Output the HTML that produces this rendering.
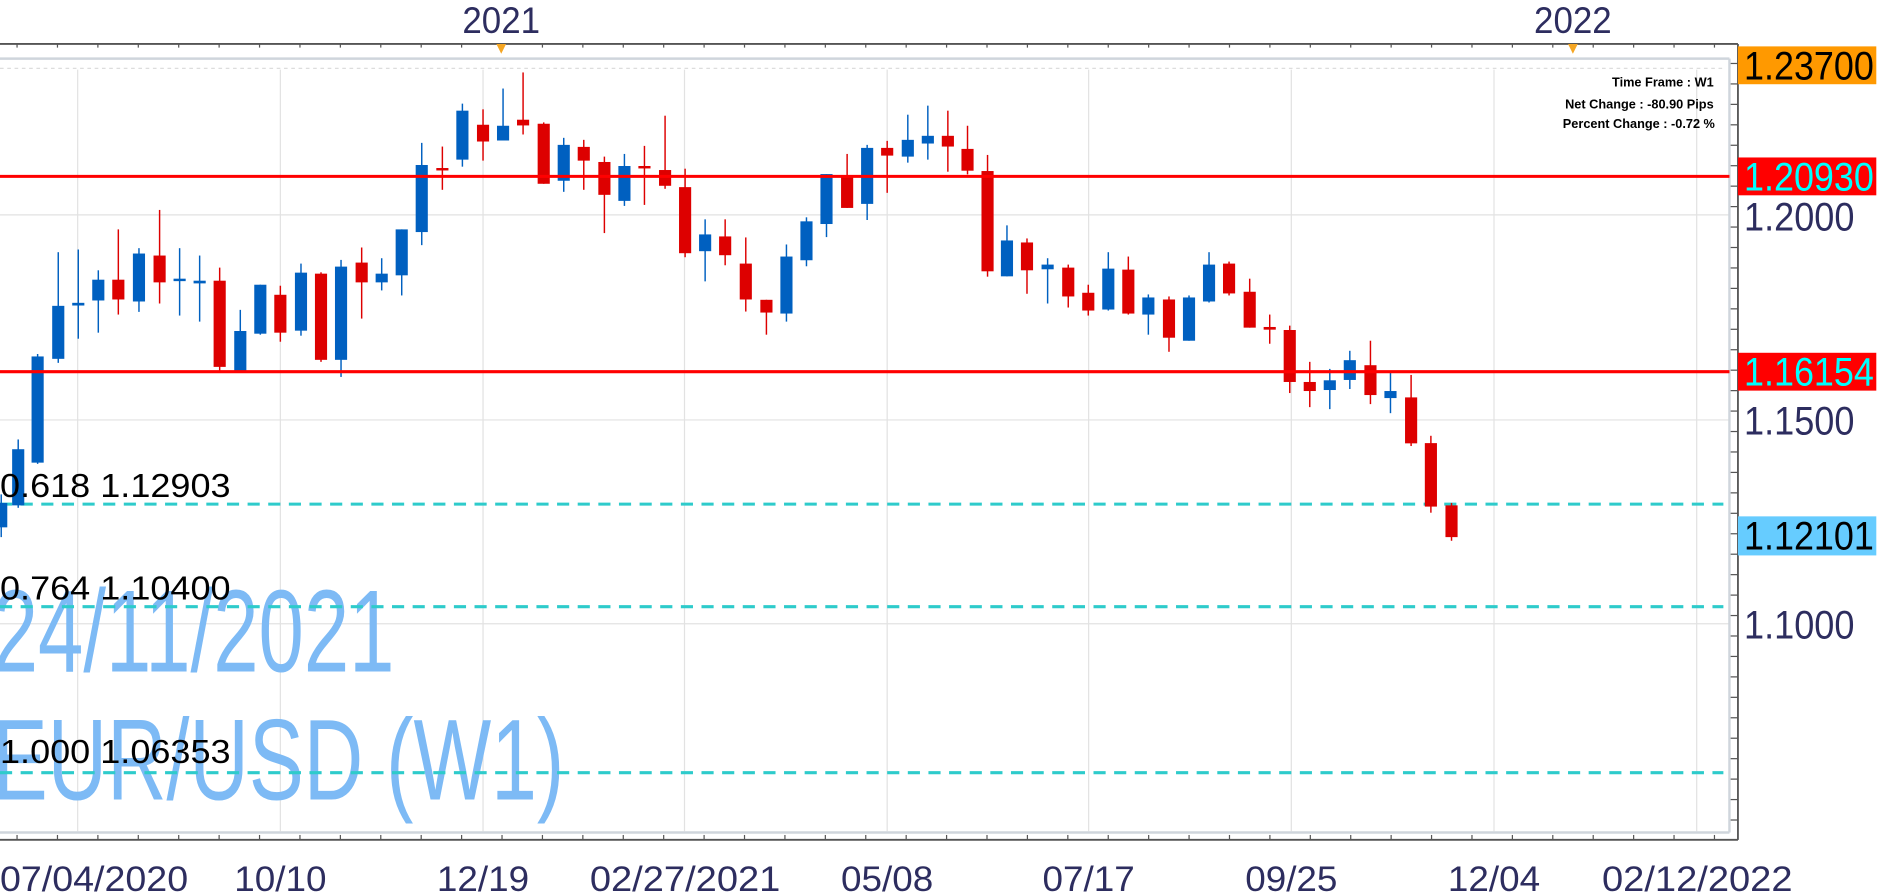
<!DOCTYPE html>
<html><head><meta charset="utf-8"><style>
html,body{margin:0;padding:0;background:#fff;overflow:hidden}
svg{display:block}
text{font-family:"Liberation Sans",sans-serif}
</style></head><body>
<svg id="s" width="1903" height="896" viewBox="0 0 1568 734" preserveAspectRatio="none" xmlns="http://www.w3.org/2000/svg">
<rect x="0" y="0" width="1568" height="734" fill="#fff"/>
<g id="grid" stroke="#e2e2e2" stroke-width="1"></g>
<line x1="0" y1="56" x2="1422" y2="56" stroke="#ddd" stroke-dasharray="3,3"/>
<line x1="0" y1="48" x2="1425" y2="48" stroke="#cfd5dc" stroke-width="2"/>
<line x1="1425" y1="48" x2="1425" y2="682" stroke="#cfd5dc" stroke-width="2"/>
<line x1="0" y1="682" x2="1425" y2="682" stroke="#cfd5dc" stroke-width="2"/>
<line x1="0" y1="36" x2="1432" y2="36" stroke="#555" stroke-width="1.5"/>
<line x1="1432" y1="36" x2="1432" y2="688" stroke="#555" stroke-width="1.5"/>
<line x1="0" y1="688" x2="1432" y2="688" stroke="#555" stroke-width="1.5"/>
<g id="ticks" stroke="#555" stroke-width="1"></g>
<polygon points="409,36 417,36 413,44" fill="#f5a623"/>
<polygon points="1292,36 1300,36 1296,44" fill="#f5a623"/>
<text x="381" y="27" font-size="30" fill="#2d2d5f" textLength="64" lengthAdjust="spacingAndGlyphs">2021</text>
<text x="1264" y="27" font-size="30" fill="#2d2d5f" textLength="64" lengthAdjust="spacingAndGlyphs">2022</text>
<text x="-6" y="550" font-size="96" fill="#7dbaf5" textLength="331" lengthAdjust="spacingAndGlyphs">24/11/2021</text>
<text x="-6" y="655" font-size="94" fill="#7dbaf5" textLength="471" lengthAdjust="spacingAndGlyphs">EUR/USD (W1)</text>
<g stroke="#2ecbcb" stroke-width="2.5" stroke-dasharray="10,7">
<line x1="0" y1="413" x2="1420" y2="413"/>
<line x1="0" y1="497" x2="1420" y2="497"/>
<line x1="0" y1="633" x2="1420" y2="633"/>
</g>
<g id="candles"></g>
<line x1="0" y1="144.5" x2="1425" y2="144.5" stroke="#ff0000" stroke-width="2.5"/>
<line x1="0" y1="304.5" x2="1425" y2="304.5" stroke="#ff0000" stroke-width="2.5"/>
<g font-size="27" fill="#000">
<text x="0" y="407" textLength="190" lengthAdjust="spacingAndGlyphs">0.618 1.12903</text>
<text x="0" y="491" textLength="190" lengthAdjust="spacingAndGlyphs">0.764 1.10400</text>
<text x="0" y="625" textLength="190" lengthAdjust="spacingAndGlyphs">1.000 1.06353</text>
</g>
<g font-size="10.5" font-weight="bold" fill="#000" text-anchor="end">
<text x="1412" y="71">Time Frame : W1</text>
<text x="1412" y="89">Net Change : -80.90 Pips</text>
<text x="1413" y="105">Percent Change : -0.72 %</text>
</g>
<rect x="1432" y="38" width="114" height="31" fill="#ff9900"/>
<text x="1437" y="65" font-size="33" fill="#000" textLength="107" lengthAdjust="spacingAndGlyphs">1.23700</text>
<rect x="1432" y="129" width="114" height="31" fill="#ff0000"/>
<text x="1437" y="156" font-size="33" fill="#00ffff" textLength="107" lengthAdjust="spacingAndGlyphs">1.20930</text>
<rect x="1432" y="289" width="114" height="31" fill="#ff0000"/>
<text x="1437" y="316" font-size="33" fill="#00ffff" textLength="107" lengthAdjust="spacingAndGlyphs">1.16154</text>
<rect x="1432" y="423" width="114" height="32" fill="#66ccff"/>
<text x="1437" y="450" font-size="33" fill="#000" textLength="107" lengthAdjust="spacingAndGlyphs">1.12101</text>
<g font-size="33" fill="#2d2d5f">
<text x="1437" y="189" textLength="91" lengthAdjust="spacingAndGlyphs">1.2000</text>
<text x="1437" y="356" textLength="91" lengthAdjust="spacingAndGlyphs">1.1500</text>
<text x="1437" y="523" textLength="91" lengthAdjust="spacingAndGlyphs">1.1000</text>
</g>
<g font-size="29" fill="#2d2d5f">
<text x="0" y="730" textLength="155" lengthAdjust="spacingAndGlyphs">07/04/2020</text>
<text x="193" y="730" textLength="76" lengthAdjust="spacingAndGlyphs">10/10</text>
<text x="360" y="730" textLength="76" lengthAdjust="spacingAndGlyphs">12/19</text>
<text x="486" y="730" textLength="157" lengthAdjust="spacingAndGlyphs">02/27/2021</text>
<text x="693" y="730" textLength="76" lengthAdjust="spacingAndGlyphs">05/08</text>
<text x="859" y="730" textLength="76" lengthAdjust="spacingAndGlyphs">07/17</text>
<text x="1026" y="730" textLength="76" lengthAdjust="spacingAndGlyphs">09/25</text>
<text x="1193" y="730" textLength="76" lengthAdjust="spacingAndGlyphs">12/04</text>
<text x="1320" y="730" textLength="157" lengthAdjust="spacingAndGlyphs">02/12/2022</text>
</g>
</svg>
<script>
var NS="http://www.w3.org/2000/svg";
function el(p,t,a){var e=document.createElementNS(NS,t);for(var k in a)e.setAttribute(k,a[k]);p.appendChild(e);return e;}
var g=document.getElementById('grid');
[64,231,398,564,731,897,1064,1231,1398].forEach(function(x){el(g,'line',{x1:x,y1:57,x2:x,y2:681});});
[176,344,511].forEach(function(y){el(g,'line',{x1:0,y1:y,x2:1425,y2:y});});
var t=document.getElementById('ticks');
for(var x=64-16.65*3;x<1432;x+=16.65*2){var big=false;[64,231,398,564,731,897,1064,1231,1398].forEach(function(v){if(Math.abs(v-x)<3)big=true;});
el(t,'line',{x1:x,y1:36,x2:x,y2:big?42:39});el(t,'line',{x1:x,y1:688,x2:x,y2:big?679:684});}
for(var y=52;y<688;y+=16.75){el(t,'line',{x1:1426,y1:y,x2:1432,y2:y});}
var c=document.getElementById('candles');
var B='#0060c0',R='#dd0000';
function cd(x,bt,bb,wt,wb,col){el(c,'line',{x1:x,y1:wt,x2:x,y2:wb,stroke:col,'stroke-width':1.2});
el(c,'rect',{x:x-5,y:bt,width:10,height:Math.max(bb-bt,2),fill:col});}
cd(1,412,432,405,440,B);cd(15,368,414,360,416,B);cd(31,292,379,290,380,B);
var z1=[[96,912,1070,752,1082,B],[129,903,911,744,1010,B],[162,834,896,806,992,B],[195,834,893,684,938,R],[229,756,899,740,930,B],[263,762,842,626,905,R],[296,831,836,740,941,B],[329,837,845,762,959,B],[362,837,1094,798,1105,R],[396,987,1105,924,1105,B],[429,849,995,849,998,B],[462,879,992,852,1019,R],[496,813,986,786,1001,B],[529,816,1073,812,1079,R],[562,795,1073,775,1124,B],[596,783,842,738,950,R],[629,816,842,770,866,B],[662,684,821,684,881,B],[695,492,692,426,731,B],[729,501,506,437,566,R],[762,330,476,309,497,B],[796,372,422,326,479,R],[829,375,419,264,419,B],[862,357,374,216,401,R],[896,369,548,365,548,R],[929,432,539,411,572,B],[962,438,479,417,566,R],[996,483,581,467,695,R],[1029,495,599,459,614,B],[1062,495,500,435,611,R],[1096,507,554,345,563,R],[1129,558,755,503,767,R],[1162,699,749,654,839,B],[1195,705,761,654,791,R],[1229,786,893,708,929,R],[1263,894,932,894,998,R],[1296,765,935,729,959,B],[1329,660,776,648,794,B],[1362,519,668,519,707,B],[1396,527,620,459,620,R],[1429,441,608,432,656,B],[1462,441,464,420,575,R],[1496,417,467,342,485,B],[1529,405,428,315,476,B],[1562,405,437,330,512,R]];
z1.forEach(function(d){cd(d[0]/2,d[1]/3.64,d[2]/3.64,d[3]/3.64,d[4]/3.64,d[5]);});
var z2=[[29,444,509,375,520,R],[62,510,809,462,825,R],[94,717,824,672,824,B],[127,723,806,711,876,R],[161,789,803,770,905,B],[195,798,884,789,917,R],[228,873,926,849,941,R],[261,801,923,752,926,B],[294,804,935,765,938,R],[327,887,938,878,998,B],[361,893,1007,884,1049,R],[394,887,1016,881,1016,B],[427,789,899,752,902,B],[460,786,875,780,881,R],[494,870,977,831,977,R],[527,975,983,938,1025,R],[560,984,1139,971,1172,R],[593,1139,1166,1079,1214,R],[626,1134,1163,1100,1220,B],[659,1074,1133,1046,1160,B],[693,1089,1178,1016,1205,R],[726,1166,1187,1112,1232,B],[760,1185,1322,1118,1330,R]];
z2.forEach(function(d){cd(782.7+d[0]/2,d[1]/3.64,d[2]/3.64,d[3]/3.64,d[4]/3.64,d[5]);});
cd(1179,363,415,357,420,R);cd(1196,414,440,412,443,R);
</script>
</body></html>
